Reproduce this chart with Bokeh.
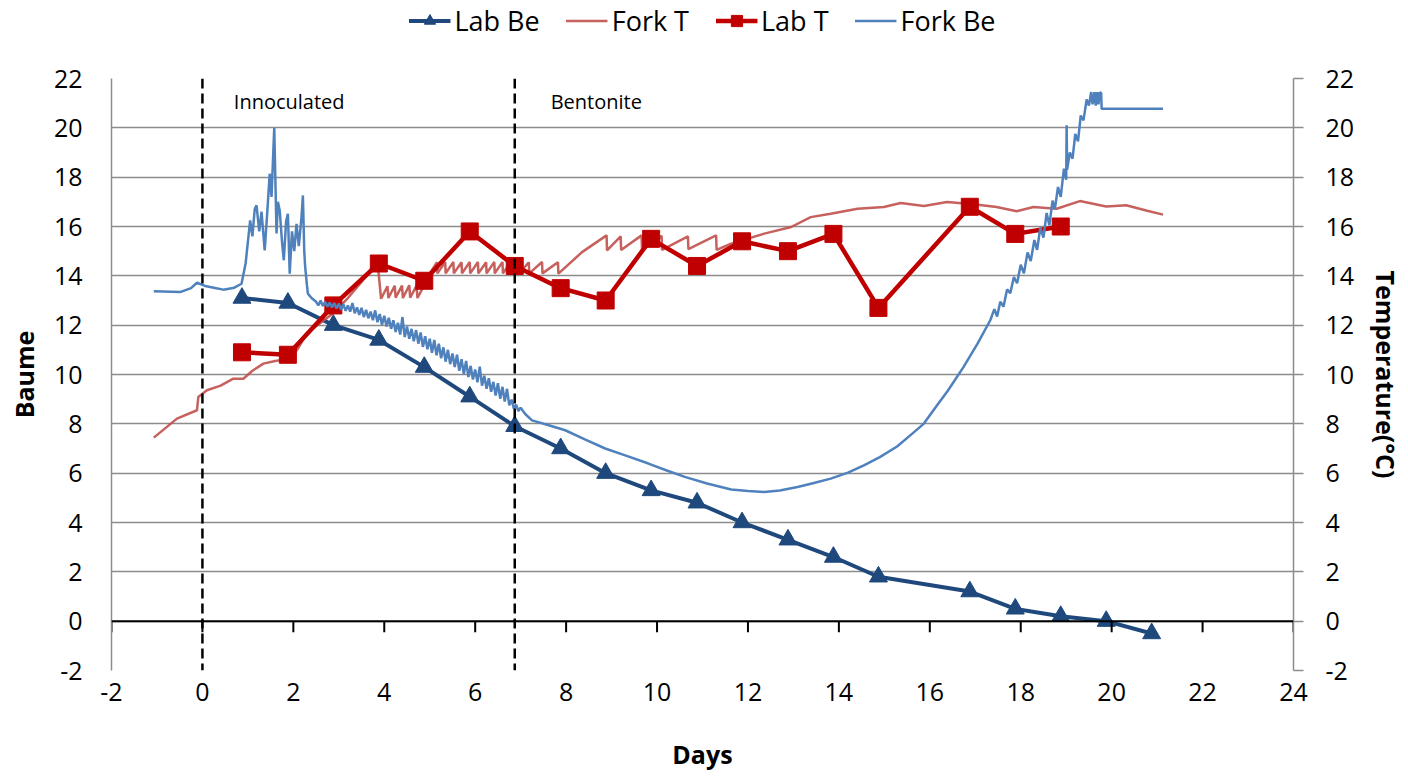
from bokeh.plotting import figure
from bokeh.layouts import column
from bokeh.models import (Range1d, LinearAxis, FixedTicker, Span, Legend,
                          LegendItem, ColumnDataSource)
from bokeh.embed import file_html
from bokeh.resources import INLINE
from bokeh.core.properties import value

# ---------------- data ----------------
x_ticks = [-2, 0, 2, 4, 6, 8, 10, 12, 14, 16, 18, 20, 22, 24]
x_tick_labels = ["-2", "0", "2", "4", "6", "8", "10", "12", "14", "16", "18", "20", "22", "24"]
y_ticks = [-2, 0, 2, 4, 6, 8, 10, 12, 14, 16, 18, 20, 22]
y_tick_labels = ["-2", "0", "2", "4", "6", "8", "10", "12", "14", "16", "18", "20", "22"]

lab_days = [0.87, 1.88, 2.88, 3.88, 4.88, 5.88, 6.87, 7.88, 8.87, 9.87,
            10.88, 11.87, 12.88, 13.88, 14.87, 16.88, 17.88, 18.88, 19.88, 20.88]
lab_be = [13.1, 12.9, 12.0, 11.4, 10.3, 9.1, 7.9, 7.0, 6.0, 5.3,
          4.8, 4.0, 3.3, 2.6, 1.8, 1.2, 0.5, 0.2, 0.0, -0.5]
lab_t_days = [0.87, 1.88, 2.88, 3.88, 4.88, 5.88, 6.87, 7.88, 8.87, 9.87,
              10.88, 11.87, 12.88, 13.88, 14.87, 16.88, 17.88, 18.88]
lab_t = [10.9, 10.8, 12.8, 14.5, 13.8, 15.8, 14.4, 13.5, 13.0, 15.5,
         14.4, 15.4, 15.0, 15.7, 12.7, 16.8, 15.7, 16.0]

fork_t_days = [-1.07, -0.56, -0.12, -0.09, 0.10, 0.40, 0.68, 0.90, 1.10, 1.34, 1.60, 1.92,
               2.10, 2.29, 2.60, 2.87, 3.20, 3.50, 3.82, 3.86,
               3.93, 4.07, 4.09, 4.23, 4.25, 4.39, 4.41, 4.55, 4.57, 4.71, 4.73, 4.86,
               5.00, 5.16, 5.17, 5.34, 5.35, 5.52, 5.53, 5.70, 5.71, 5.88, 5.89, 6.06, 6.07,
               6.24, 6.25, 6.42, 6.43, 6.60, 6.61, 6.78, 6.79, 6.96, 6.97, 7.18, 7.19,
               7.47, 7.48, 7.82, 7.83, 8.35, 8.89, 8.90, 9.20, 9.21, 9.66, 9.67,
               10.10, 10.11, 10.68, 10.69, 11.30, 11.31, 11.63, 12.36, 12.95, 13.38,
               13.82, 14.41, 14.99, 15.36, 15.87, 16.38, 16.96, 17.47, 17.91, 18.28,
               18.79, 19.30, 19.88, 20.32, 20.76, 21.13]
fork_t = [7.44, 8.21, 8.55, 9.09, 9.36, 9.55, 9.83, 9.83, 10.15, 10.44, 10.55, 10.64,
          11.05, 11.66, 12.10, 12.47, 13.10, 13.75, 14.45, 14.40,
          13.07, 13.58, 13.10, 13.60, 13.12, 13.60, 13.10, 13.62, 13.12, 13.60, 13.10, 13.55,
          14.10, 14.55, 14.10, 14.56, 14.10, 14.56, 14.10, 14.55, 14.10, 14.56, 14.10, 14.56, 14.10,
          14.55, 14.10, 14.56, 14.10, 14.56, 14.10, 14.55, 14.10, 14.56, 14.10, 14.55, 14.10,
          14.56, 14.10, 14.55, 14.09, 14.96, 15.64, 15.03, 15.60, 15.05, 15.64, 15.05,
          15.62, 15.05, 15.60, 15.08, 15.64, 15.05, 15.30, 15.71, 15.98, 16.38,
          16.52, 16.72, 16.79, 16.95, 16.83, 16.99, 16.90, 16.79, 16.62, 16.79,
          16.72, 17.03, 16.81, 16.86, 16.65, 16.48]

fork_be_days = [-1.07, -0.49, -0.25, -0.12, 0.06, 0.25, 0.46, 0.70, 0.86, 0.95,
                1.05, 1.10, 1.15, 1.19, 1.25, 1.30, 1.37, 1.42, 1.48, 1.52, 1.58, 1.63,
                1.66, 1.70, 1.75, 1.79, 1.84, 1.88, 1.92, 1.97, 2.02, 2.07, 2.12, 2.18,
                2.21, 2.24, 2.26, 2.30, 2.32, 2.40,
                2.50, 2.55, 2.60, 2.65, 2.70, 2.75, 2.80, 2.85, 2.90, 2.95,
                3.00, 3.05, 3.10, 3.15, 3.20, 3.25, 3.30, 3.35, 3.40, 3.45,
                3.50, 3.55, 3.60, 3.65, 3.70, 3.75, 3.80, 3.85, 3.90, 3.95,
                4.00, 4.05, 4.10, 4.15, 4.20, 4.25, 4.30, 4.35, 4.40, 4.45,
                4.50, 4.55, 4.60, 4.65, 4.70, 4.75, 4.80, 4.85, 4.90, 4.95,
                5.00, 5.05, 5.10, 5.15, 5.20, 5.25, 5.30, 5.35, 5.40, 5.45,
                5.50, 5.55, 5.60, 5.65, 5.70, 5.75, 5.80, 5.85, 5.90, 5.95,
                6.00, 6.05, 6.10, 6.15, 6.20, 6.25, 6.30, 6.35, 6.40, 6.45,
                6.50, 6.55, 6.60, 6.65, 6.70, 6.75, 6.80, 6.85, 6.90, 6.95,
                7.00, 7.10, 7.25, 7.60, 7.98, 8.40, 8.86, 9.30, 9.81, 10.20,
                10.61, 11.10, 11.63, 12.00, 12.36, 12.70, 13.09, 13.45, 13.82, 14.20,
                14.55, 14.90, 15.28, 15.55, 15.87, 16.16, 16.40, 16.74, 17.05, 17.33,
                17.42, 17.48, 17.55, 17.62, 17.70, 17.77, 17.85, 17.92, 18.00, 18.07,
                18.15, 18.22, 18.30, 18.36, 18.43, 18.50, 18.57, 18.63, 18.70, 18.75,
                18.82, 18.88, 18.95, 19.00, 19.01, 19.02, 19.08, 19.14, 19.20, 19.26,
                19.32, 19.38, 19.45, 19.50, 19.55, 19.58, 19.62, 19.65, 19.68, 19.71,
                19.74, 19.77, 19.78, 21.13]
fork_be = [13.37, 13.34, 13.50, 13.72, 13.59, 13.52, 13.44, 13.52, 13.68, 14.50,
           16.25, 15.60, 16.70, 16.86, 15.80, 16.60, 15.03, 16.40, 18.14, 17.20, 20.00, 15.72,
           17.00, 16.65, 15.40, 14.63, 16.20, 16.52, 14.09, 15.80, 15.00, 16.11, 15.20, 16.40,
           17.26, 15.00, 14.36, 13.60, 13.28, 13.10,
           12.95, 12.80, 13.00, 12.78, 12.95, 12.75, 12.92, 12.72, 12.90, 12.68,
           12.88, 12.62, 12.85, 12.58, 12.80, 12.55, 12.90, 12.48, 12.72, 12.42,
           12.70, 12.33, 12.62, 12.28, 12.55, 12.20, 12.60, 12.12, 12.45, 12.02,
           12.38, 11.95, 12.30, 11.85, 12.20, 11.72, 12.10, 11.62, 12.33, 11.52,
           11.95, 11.45, 11.85, 11.35, 11.80, 11.25, 11.70, 11.12, 11.55, 11.02,
           11.45, 10.88, 11.40, 10.78, 11.25, 10.66, 11.10, 10.52, 11.00, 10.42,
           10.85, 10.30, 10.80, 10.15, 10.62, 10.02, 10.55, 9.90, 10.35, 9.80,
           10.20, 9.68, 10.32, 9.55, 9.95, 9.42, 9.85, 9.30, 9.70, 9.15,
           9.65, 9.02, 9.50, 8.90, 9.42, 8.75, 8.98, 8.62, 8.78, 8.52,
           8.65, 8.40, 8.14, 7.95, 7.74, 7.38, 7.00, 6.72, 6.39, 6.12,
           5.85, 5.58, 5.34, 5.28, 5.24, 5.30, 5.44, 5.60, 5.78, 6.02,
           6.32, 6.65, 7.08, 7.50, 8.01, 8.75, 9.35, 10.30, 11.25, 12.20,
           12.65, 12.35, 12.95, 12.75, 13.45, 13.30, 13.95, 13.70, 14.45, 14.10,
           14.95, 14.60, 15.45, 15.05, 15.95, 15.55, 16.55, 16.05, 17.05, 16.70,
           17.60, 17.20, 18.35, 17.90, 20.10, 18.30, 19.00, 18.75, 19.75, 19.45,
           20.50, 20.30, 21.15, 20.90, 21.45, 20.95, 21.45, 20.90, 21.45, 20.95,
           21.45, 21.40, 20.77, 20.77]

event_days = [0, 6.87]
note_text = ["Innoculated", "Bentonite"]
note_days = [0.69, 7.66]
note_level = [21.05, 21.05]

# ---------------- styles ----------------
FONT = "Open Sans"
GRID = "#8c8c8c"
C_LAB_BE = "#1F497D"
C_FORK_T = "#C0504D"
C_LAB_T = "#C00000"
C_FORK_BE = "#4F81BD"
W = 1406


def draw_series(fig, temp_range=None):
    """Draw the four series on fig; returns renderers for the legend."""
    kw_t = {"y_range_name": temp_range} if temp_range else {}
    a1 = fig.line(lab_days, lab_be, line_color=C_LAB_BE, line_width=4)
    a2 = fig.scatter(lab_days, lab_be, marker="triangle", size=18,
                     fill_color=C_LAB_BE, line_color=C_LAB_BE)
    b = fig.line(fork_t_days, fork_t, line_color=C_FORK_T, line_width=2.5,
                 line_alpha=0.9, **kw_t)
    c1 = fig.line(lab_t_days, lab_t, line_color=C_LAB_T, line_width=4.5, **kw_t)
    c2 = fig.scatter(lab_t_days, lab_t, marker="square", size=17,
                     fill_color=C_LAB_T, line_color=C_LAB_T, **kw_t)
    d = fig.line(fork_be_days, fork_be, line_color=C_FORK_BE, line_width=2.5)
    return [[a1, a2], [b], [c1, c2], [d]]


p = figure(width=W, height=734, output_backend="svg", toolbar_location=None,
           x_range=Range1d(-2, 24), y_range=Range1d(-2, 22),
           min_border_left=111, min_border_right=W - 1298, min_border_top=38,
           min_border_bottom=104)
p.extra_y_ranges = {"temp": Range1d(-2, 22)}
p.outline_line_color = None
p.background_fill_color = "white"
p.border_fill_color = "white"

# grid
p.xgrid.visible = False
p.ygrid.ticker = FixedTicker(ticks=y_ticks)
p.ygrid.grid_line_color = GRID
p.ygrid.grid_line_width = 1.5

# x axis (labels at bottom)
xa = p.xaxis[0]
xa.ticker = FixedTicker(ticks=x_ticks)
xa.major_label_overrides = {t: s for t, s in zip(x_ticks, x_tick_labels)}
xa.axis_line_color = None
xa.major_tick_line_color = None
xa.minor_tick_line_color = None
xa.major_label_standoff = 6
xa.major_label_text_font = FONT
xa.major_label_text_font_size = "25px"
xa.major_label_text_color = "black"
xa.axis_label = "Days"
xa.axis_label_text_font = FONT
xa.axis_label_text_font_size = "25px"
xa.axis_label_text_font_style = "bold"
xa.axis_label_text_color = "black"
xa.axis_label_standoff = 33

# left axis
ya = p.yaxis[0]
ya.ticker = FixedTicker(ticks=y_ticks)
ya.major_label_overrides = {t: s for t, s in zip(y_ticks, y_tick_labels)}
ya.axis_line_color = GRID
ya.axis_line_width = 1.5
ya.major_tick_out = 0
ya.major_tick_in = 0
ya.minor_tick_line_color = None
ya.major_label_standoff = 29
ya.major_label_text_font = FONT
ya.major_label_text_font_size = "25px"
ya.major_label_text_color = "black"
ya.axis_label = "Baume"
ya.axis_label_text_font = FONT
ya.axis_label_text_font_size = "25px"
ya.axis_label_text_font_style = "bold"
ya.axis_label_text_color = "black"
ya.axis_label_standoff = 10

# right axis
ra = LinearAxis(y_range_name="temp", ticker=FixedTicker(ticks=y_ticks))
ra.major_label_overrides = {t: s for t, s in zip(y_ticks, y_tick_labels)}
ra.axis_line_color = GRID
ra.axis_line_width = 1.5
ra.major_tick_out = 10
ra.major_tick_in = 0
ra.major_tick_line_color = GRID
ra.major_tick_line_width = 1.5
ra.minor_tick_line_color = None
ra.major_label_standoff = 22
ra.major_label_text_font = FONT
ra.major_label_text_font_size = "25px"
ra.major_label_text_color = "black"
ra.axis_label = "Temperature(°C)"
ra.axis_label_text_font = FONT
ra.axis_label_text_font_size = "25px"
ra.axis_label_text_font_style = "bold"
ra.axis_label_text_color = "black"
ra.axis_label_standoff = 12
p.add_layout(ra, "right")

# series
draw_series(p, "temp")

# horizontal axis line at zero with downward ticks
p.segment(x0=x_ticks, y0=[0] * len(x_ticks), x1=x_ticks, y1=[-0.45] * len(x_ticks),
          line_color="black", line_width=2)
p.add_layout(Span(location=0, dimension="width", line_color="black", line_width=2))

# event lines
for d in event_days:
    p.add_layout(Span(location=d, dimension="height", line_color="black",
                      line_width=2.5, line_dash="10 5"))

notes = ColumnDataSource(dict(x=note_days, y=note_level, t=note_text))
p.text(x="x", y="y", text="t", source=notes, text_font=value(FONT),
       text_font_size="20px", text_baseline="middle", text_align="left",
       text_color="black")

# ---------------- legend strip (own small figure above the chart) ----------------
# the same series are drawn here, but its ranges keep them out of view;
# they only supply the legend glyphs.
lg = figure(width=W, height=40, output_backend="svg", toolbar_location=None,
            x_range=Range1d(100, 101), y_range=Range1d(100, 101),
            x_axis_location=None, y_axis_location=None, min_border=0)
lg.outline_line_color = None
lg.xgrid.visible = False
lg.ygrid.visible = False
keys = draw_series(lg)

legend = Legend(items=[
    LegendItem(label="Lab Be", renderers=keys[0]),
    LegendItem(label="Fork T", renderers=keys[1]),
    LegendItem(label="Lab T", renderers=keys[2]),
    LegendItem(label="Fork Be", renderers=keys[3]),
], orientation="horizontal", location="center")
legend.label_text_font = FONT
legend.label_text_font_size = "27px"
legend.label_text_color = "black"
legend.glyph_width = 42
legend.glyph_height = 28
legend.label_standoff = 4
legend.spacing = 26
legend.padding = 0
legend.margin = 0
legend.border_line_color = None
legend.background_fill_alpha = 0
lg.add_layout(legend, "center")

layout = column(lg, p, spacing=0)
open("out.html", "w").write(file_html(layout, INLINE))
